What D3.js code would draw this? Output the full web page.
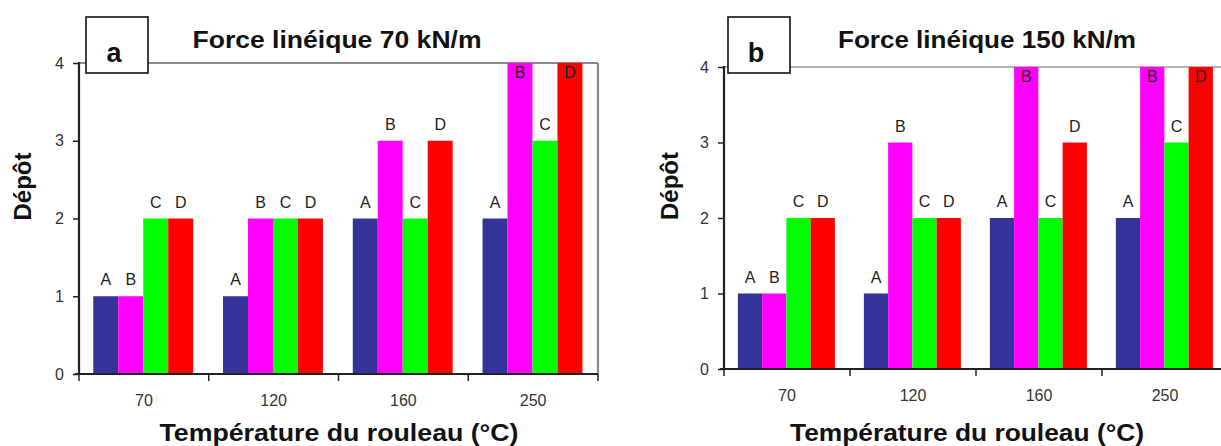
<!DOCTYPE html>
<html><head><meta charset="utf-8">
<script src="https://cdn.jsdelivr.net/npm/d3@7"></script>
<style>body{margin:0;background:#fff}svg{display:block}</style>
</head><body>
<svg id="c" width="1221" height="446"></svg>
<script>
// ---- data ----
const categories = ["70", "120", "160", "250"];
const series = ["A", "B", "C", "D"];
const seriesColors = ["#333399", "#ff00ff", "#00ff00", "#ff0000"];
const yTicks = [0, 1, 2, 3, 4];
// values per category (A, B, C, D)
const valuesPanelA = [[1, 1, 2, 2], [1, 2, 2, 2], [2, 3, 2, 3], [2, 4, 3, 4]];
const valuesPanelB = [[1, 1, 2, 2], [1, 3, 2, 2], [2, 4, 2, 3], [2, 4, 3, 4]];
const panelLetters = ["a", "b"];
const panelTitles = ["Force linéique 70 kN/m", "Force linéique 150 kN/m"];
const xTitle = "Température du rouleau (°C)";
const yTitle = "Dépôt";

// ---- layout ----
const panels = [
  {values: valuesPanelA, letter: panelLetters[0], title: panelTitles[0],
   left: 79, right: 598, top: 63, bottom: 374, box: [86, 17, 62, 56],
   titleX: 337, titleLen: 289, xtX: 339, xtLen: 359, ytX: 31, frameRight: true, topStroke: "#8a8a8a", topW: 2.2},
  {values: valuesPanelB, letter: panelLetters[1], title: panelTitles[1],
   left: 724, right: 1228, top: 67, bottom: 369, box: [728, 17, 62, 56],
   titleX: 987, titleLen: 298, xtX: 967, xtLen: 354, ytX: 678, frameRight: false, topStroke: "#9a9a9a", topW: 1.6}
];

const svg = d3.select("#c");
const FONT = "'Liberation Sans', Arial, sans-serif";
const small = 16;

panels.forEach(p => {
  const g = svg.append("g");
  const x = d3.scaleBand().domain(categories).range([p.left, p.right]).padding(0);
  const bw = x.bandwidth();
  const xs = d3.scaleBand().domain(series).range([bw * 0.11, bw * 0.88]).padding(0);
  const y = d3.scaleLinear().domain([0, 4]).range([p.bottom, p.top]);

  // frame (top + right)
  g.append("line").attr("x1", p.left).attr("x2", p.right).attr("y1", y(4)).attr("y2", y(4))
    .attr("stroke", p.topStroke).attr("stroke-width", p.topW);
  if (p.frameRight) {
    g.append("line").attr("x1", p.right).attr("x2", p.right).attr("y1", y(4)).attr("y2", y(0))
      .attr("stroke", p.topStroke).attr("stroke-width", p.topW);
  }

  // bars
  const groups = g.selectAll("g.grp").data(categories).join("g")
    .attr("transform", c => `translate(${x(c)},0)`);
  groups.each(function (c, ci) {
    const vals = p.values[ci];
    const gg = d3.select(this);
    gg.selectAll("rect").data(series).join("rect")
      .attr("x", (s) => xs(s))
      .attr("width", xs.bandwidth())
      .attr("y", (s, si) => y(vals[si]))
      .attr("height", (s, si) => y(0) - y(vals[si]))
      .attr("fill", (s, si) => seriesColors[si]);
    gg.selectAll("text").data(series).join("text")
      .attr("x", s => xs(s) + xs.bandwidth() / 2)
      .attr("y", (s, si) => vals[si] === 4 ? y(4) + 15 : y(vals[si]) - 11)
      .attr("text-anchor", "middle")
      .attr("font-family", FONT).attr("font-size", small)
      .attr("fill", "#222")
      .text(s => s);
  });

  // y axis
  const ya = g.append("g").attr("transform", `translate(${p.left},0)`)
    .call(d3.axisLeft(y).tickValues(yTicks).tickSize(6).tickPadding(9).tickFormat(d3.format("d")));
  ya.select(".domain").remove();
  ya.selectAll(".tick line").attr("stroke", "#222").attr("stroke-width", 1.5);
  ya.selectAll(".tick text").attr("font-family", FONT).attr("font-size", small).attr("fill", "#333");
  g.append("line").attr("x1", p.left).attr("x2", p.left).attr("y1", y(4) - 1).attr("y2", y(0) + 1)
    .attr("stroke", "#222").attr("stroke-width", 2.2);

  // x axis
  const xa = g.append("g").attr("transform", `translate(0,${y(0)})`)
    .call(d3.axisBottom(x).tickSize(0).tickPadding(21));
  xa.select(".domain").remove();
  xa.selectAll(".tick text").attr("font-family", FONT).attr("font-size", small).attr("fill", "#333");
  g.append("line").attr("x1", p.left - 4).attr("x2", p.right).attr("y1", y(0)).attr("y2", y(0))
    .attr("stroke", "#222").attr("stroke-width", 2.2);
  const bounds = categories.map(c => x(c)).concat([x(categories[categories.length - 1]) + bw]);
  g.selectAll("line.bt").data(bounds).join("line").attr("class", "bt")
    .attr("x1", d => d).attr("x2", d => d).attr("y1", y(0)).attr("y2", y(0) + 7)
    .attr("stroke", "#222").attr("stroke-width", 1.5);

  // letter box
  g.append("rect").attr("x", p.box[0]).attr("y", p.box[1]).attr("width", p.box[2]).attr("height", p.box[3])
    .attr("fill", "#fff").attr("stroke", "#111").attr("stroke-width", 1.6);
  g.append("text").attr("x", p.box[0] + p.box[2] / 2 - 3).attr("y", 62)
    .attr("text-anchor", "middle").attr("font-family", FONT).attr("font-weight", "bold")
    .attr("font-size", 27).attr("fill", "#111").text(p.letter);

  // title
  g.append("text").attr("x", p.titleX).attr("y", 48).attr("text-anchor", "middle")
    .attr("font-family", FONT).attr("font-weight", "bold").attr("font-size", 23)
    .attr("textLength", p.titleLen).attr("lengthAdjust", "spacingAndGlyphs")
    .attr("fill", "#111").text(p.title);

  // x title
  g.append("text").attr("x", p.xtX).attr("y", 441).attr("text-anchor", "middle")
    .attr("font-family", FONT).attr("font-weight", "bold").attr("font-size", 24)
    .attr("textLength", p.xtLen).attr("lengthAdjust", "spacingAndGlyphs")
    .attr("fill", "#111").text(xTitle);

  // y title
  g.append("text").attr("transform", `translate(${p.ytX},${(y(0) + y(4)) / 2 - 32}) rotate(-90)`)
    .attr("text-anchor", "middle")
    .attr("font-family", FONT).attr("font-weight", "bold").attr("font-size", 24)
    .attr("fill", "#111").text(yTitle);
});
</script>
</body></html>
